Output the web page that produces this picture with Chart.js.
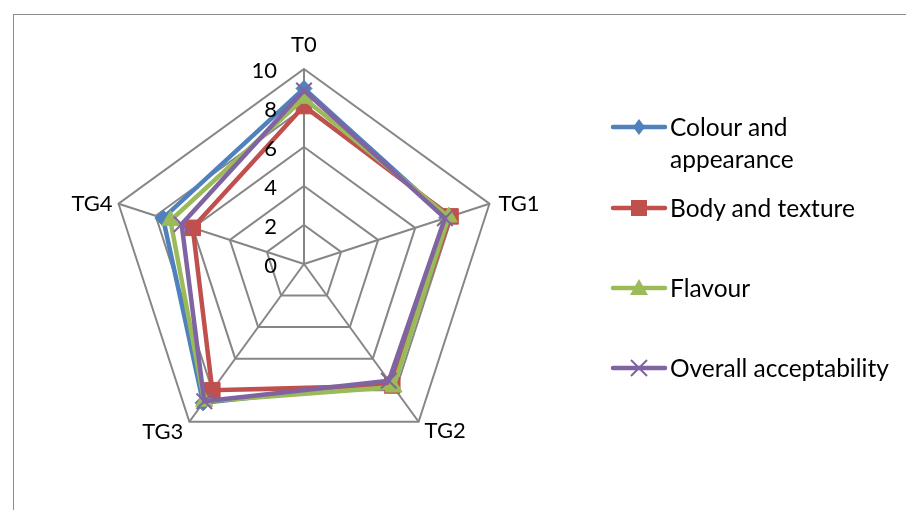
<!DOCTYPE html>
<html>
<head>
<meta charset="utf-8">
<script src="https://cdn.jsdelivr.net/npm/chart.js@4.4.1/dist/chart.umd.min.js"></script>
<style>
  html, body { margin: 0; padding: 0; background: #fff; }
  #wrap { position: relative; width: 906px; height: 510px; overflow: hidden; font-family: Lato, "Open Sans", sans-serif; }
  #frame { position: absolute; left: 13px; top: 14px; width: 1000px; height: 600px;
           border-top: 1px solid #8c8c8c; border-left: 1px solid #8c8c8c; box-sizing: border-box; }
  #chart { position: absolute; left: 0; top: 0; }
  .key { position: absolute; left: 608px; width: 62px; height: 24px; }
  .txt { position: absolute; left: 670px; font-size: 24.5px; line-height: 32px; color: #000; white-space: nowrap; }
</style>
</head>
<body>
<div id="wrap">
  <div id="frame"></div>
  <canvas id="chart" width="906" height="510"></canvas>
  <div id="legend"></div>
</div>
<script>
// Sensory scores over storage
const labels = ['T0', 'TG1', 'TG2', 'TG3', 'TG4'];
const colourAppearance = [9.0, 7.7, 7.5, 8.8, 7.6];
const bodyTexture      = [8.1, 7.9, 7.7, 8.0, 6.0];
const flavour          = [8.5, 7.8, 7.8, 8.7, 7.2];
const overallAccept    = [8.9, 7.6, 7.4, 8.7, 6.6];
const tickValues = [0, 2, 4, 6, 8, 10];

const series = [
  { name: ['Colour and', 'appearance'], data: colourAppearance, color: '#4F81BD', style: 'rectRot', r: 8,  order: 3 },
  { name: ['Body and texture'],         data: bodyTexture,      color: '#C0504D', style: 'rect',    r: 11, order: 2 },
  { name: ['Flavour'],                  data: flavour,          color: '#9BBB59', style: 'triangle',r: 10, order: 1 },
  { name: ['Overall acceptability'],    data: overallAccept,    color: '#8064A2', style: 'crossRot',r: 11, order: 0 }
];

const FONT = '22px Lato, "Open Sans", sans-serif';

// tick numbers to the left of the vertical axis, category names outside the outer ring
const labelPlugin = {
  id: 'radarLabels',
  afterDraw(chart) {
    const s = chart.scales.r;
    const ctx = chart.ctx;
    ctx.save();
    ctx.font = FONT;
    ctx.fillStyle = '#000';
    ctx.textBaseline = 'middle';
    ctx.textAlign = 'right';
    tickValues.forEach(v => {
      const d = s.getDistanceFromCenterForValue(v);
      ctx.fillText(String(v), s.xCenter - 27, s.yCenter - d + 2);
    });
    const place = [
      { dx: 0,  dy: -24, align: 'center' },
      { dx: 9,  dy: 0,   align: 'left' },
      { dx: 6,  dy: 9,   align: 'left' },
      { dx: -6, dy: 10,  align: 'right' },
      { dx: -6, dy: 0,   align: 'right' }
    ];
    labels.forEach((lab, i) => {
      const p = s.getPointPositionForValue(i, s.max);
      ctx.textAlign = place[i].align;
      ctx.fillText(lab, p.x + place[i].dx, p.y + place[i].dy);
    });
    ctx.restore();
  }
};

new Chart(document.getElementById('chart'), {
  type: 'radar',
  data: {
    labels: labels,
    datasets: series.map(sr => ({
      label: sr.name.join(' '),
      data: sr.data,
      order: sr.order,
      borderColor: sr.color,
      backgroundColor: sr.color,
      borderWidth: 4.5,
      fill: false,
      tension: 0,
      pointStyle: sr.style,
      pointRadius: sr.r,
      pointHoverRadius: sr.r,
      pointBackgroundColor: sr.color,
      pointBorderColor: sr.color,
      pointBorderWidth: sr.style === 'crossRot' ? 2 : 1
    }))
  },
  options: {
    responsive: false,
    devicePixelRatio: 1,
    animation: false,
    layout: { padding: { left: 109, top: 69, right: 407, bottom: 51 } },
    plugins: { legend: { display: false }, tooltip: { enabled: false } },
    scales: {
      r: {
        min: 0,
        max: 10,
        ticks: { stepSize: 2, display: false },
        grid: { color: '#868686', lineWidth: 2 },
        angleLines: { color: '#868686', lineWidth: 2 },
        pointLabels: { display: false }
      }
    }
  },
  plugins: [labelPlugin]
});

// legend: line with marker, then the series name
const legendRows = [127, 208, 288, 368];
const legend = document.getElementById('legend');
function markerSvg(style, color) {
  const cx = 31, cy = 12;
  let m = '';
  if (style === 'rectRot') m = `<polygon points="${cx-6},${cy} ${cx},${cy-8} ${cx+6},${cy} ${cx},${cy+8}" fill="${color}"/>`;
  if (style === 'rect') m = `<rect x="${cx-8}" y="${cy-8}" width="16" height="16" fill="${color}"/>`;
  if (style === 'triangle') m = `<polygon points="${cx},${cy-9} ${cx+9},${cy+7} ${cx-9},${cy+7}" fill="${color}"/>`;
  if (style === 'crossRot') m = `<path d="M${cx-8},${cy-8}L${cx+8},${cy+8}M${cx+8},${cy-8}L${cx-8},${cy+8}" stroke="${color}" stroke-width="2"/>`;
  return `<svg width="62" height="24" xmlns="http://www.w3.org/2000/svg">` +
         `<line x1="5" y1="${cy}" x2="57" y2="${cy}" stroke="${color}" stroke-width="4.5" stroke-linecap="round"/>` + m + `</svg>`;
}
series.forEach((sr, i) => {
  const y = legendRows[i];
  const k = document.createElement('div');
  k.className = 'key';
  k.style.top = (y - 12) + 'px';
  k.innerHTML = markerSvg(sr.style, sr.color);
  legend.appendChild(k);
  const t = document.createElement('div');
  t.className = 'txt';
  t.style.top = (y - 16) + 'px';
  t.innerHTML = sr.name.join('<br>');
  legend.appendChild(t);
});
</script>
</body>
</html>
